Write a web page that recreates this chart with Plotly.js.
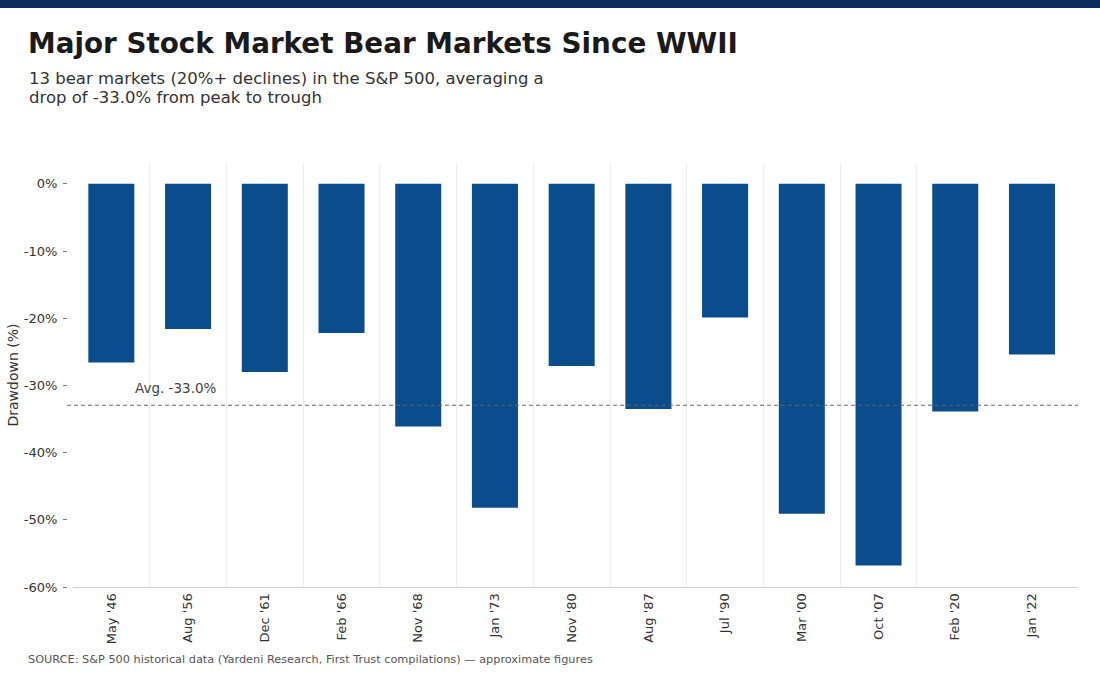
<!DOCTYPE html>
<html>
<head>
<meta charset="utf-8">
<script src="https://cdn.plot.ly/plotly-3.0.1.min.js"></script>
<style>html,body{margin:0;padding:0;background:#fff;}#chart{width:1100px;height:683px;}</style>
</head>
<body>
<div id="chart"></div>
<script>
const categories = ["May '46","Aug '56","Dec '61","Feb '66","Nov '68","Jan '73","Nov '80","Aug '87","Jul '90","Mar '00","Oct '07","Feb '20","Jan '22"];
const drawdowns = [-26.6,-21.6,-28.0,-22.2,-36.1,-48.2,-27.1,-33.5,-19.9,-49.1,-56.8,-33.9,-25.4];
const yTickVals = [0,-10,-20,-30,-40,-50,-60];
const yTickText = ["0%","-10%","-20%","-30%","-40%","-50%","-60%"];
const average = drawdowns.reduce((a,b)=>a+b,0)/drawdowns.length;
// category boundaries (between bars) for the vertical grid
const boundaries = categories.slice(0, -1).map((_, i) => i - 0.5);

const W = 1100, H = 683;
const m = {l:67, r:22, t:163, b:96};
const pw = W - m.l - m.r, ph = H - m.t - m.b;
const px = v => (v - m.l) / pw;          // pixel x -> paper
const py = v => (H - m.b - v) / ph;      // pixel y -> paper

const font = "DejaVu Sans, sans-serif";

const trace = {
  type: 'bar',
  x: categories.map((_, i) => i),
  y: drawdowns,
  width: 0.6,
  marker: {color: '#0b4d8c', line: {width: 0}},
  hoverinfo: 'y'
};

const layout = {
  width: W, height: H,
  margin: m,
  paper_bgcolor: '#fff', plot_bgcolor: '#fff',
  font: {family: font, color: '#333', size: 13},
  showlegend: false,
  xaxis: {
    domain: [px(73), 1],
    range: [-0.5, 12.6],
    tickmode: 'array',
    tickvals: categories.map((_, i) => i), ticktext: categories,
    showgrid: false,
    ticks: '', tickangle: -90,
    tickfont: {size: 13, color: '#333'},
    showline: true, linecolor: '#d0d0d0', linewidth: 1,
    zeroline: false,
    minor: {tickmode: 'array', tickvals: boundaries, showgrid: true,
            gridcolor: '#ededed', gridwidth: 1, ticks: ''}
  },
  yaxis: {
    range: [-60, 3.1],
    anchor: 'free', position: 0,
    tickvals: yTickVals, ticktext: yTickText,
    ticks: 'outside', ticklen: 4, tickcolor: '#777', tickwidth: 1,
    ticklabelstandoff: 3,
    tickfont: {size: 13, color: '#333'},
    showgrid: false, zeroline: false, showline: false
  },
  shapes: [
    {type: 'rect', xref: 'paper', yref: 'paper', x0: px(0), x1: px(W), y0: py(8), y1: py(0),
     fillcolor: '#0d2b5b', line: {width: 0}, layer: 'above'},
    {type: 'line', xref: 'paper', yref: 'y', x0: px(67), x1: 1, y0: average, y1: average,
     line: {color: '#666', width: 1, dash: '4px,3px'}}
  ],
  annotations: [
    {xref: 'paper', yref: 'paper', x: px(26), y: py(43), xanchor: 'left', yanchor: 'middle',
     text: '<b>Major Stock Market Bear Markets Since WWII</b>', showarrow: false,
     font: {family: font, size: 27.8, color: '#1a1a1a'}},
    {xref: 'paper', yref: 'paper', x: px(27), y: py(78.5), xanchor: 'left', yanchor: 'middle', align: 'left',
     text: '13 bear markets (20%+ declines) in the S&P 500, averaging a',
     showarrow: false, font: {family: font, size: 16.5, color: '#333'}},
    {xref: 'paper', yref: 'paper', x: px(27), y: py(97.5), xanchor: 'left', yanchor: 'middle', align: 'left',
     text: 'drop of ' + average.toFixed(1) + '% from peak to trough',
     showarrow: false, font: {family: font, size: 16.5, color: '#333'}},
    {xref: 'paper', yref: 'paper', x: px(12.5), y: py(375), xanchor: 'center', yanchor: 'middle',
     text: 'Drawdown (%)', textangle: -90, showarrow: false,
     font: {family: font, size: 14, color: '#333'}},
    {xref: 'paper', yref: 'y', x: px(133), y: average, xanchor: 'left', yanchor: 'bottom', yshift: 7,
     text: 'Avg. ' + average.toFixed(1) + '%', showarrow: false,
     font: {family: font, size: 13.5, color: '#444'}},
    {xref: 'paper', yref: 'paper', x: px(26), y: py(659), xanchor: 'left', yanchor: 'middle',
     text: 'SOURCE: S&P 500 historical data (Yardeni Research, First Trust compilations) — approximate figures',
     showarrow: false, font: {family: font, size: 11.3, color: '#555'}}
  ]
};

Plotly.newPlot('chart', [trace], layout, {displayModeBar: false, staticPlot: true});
</script>
</body>
</html>
